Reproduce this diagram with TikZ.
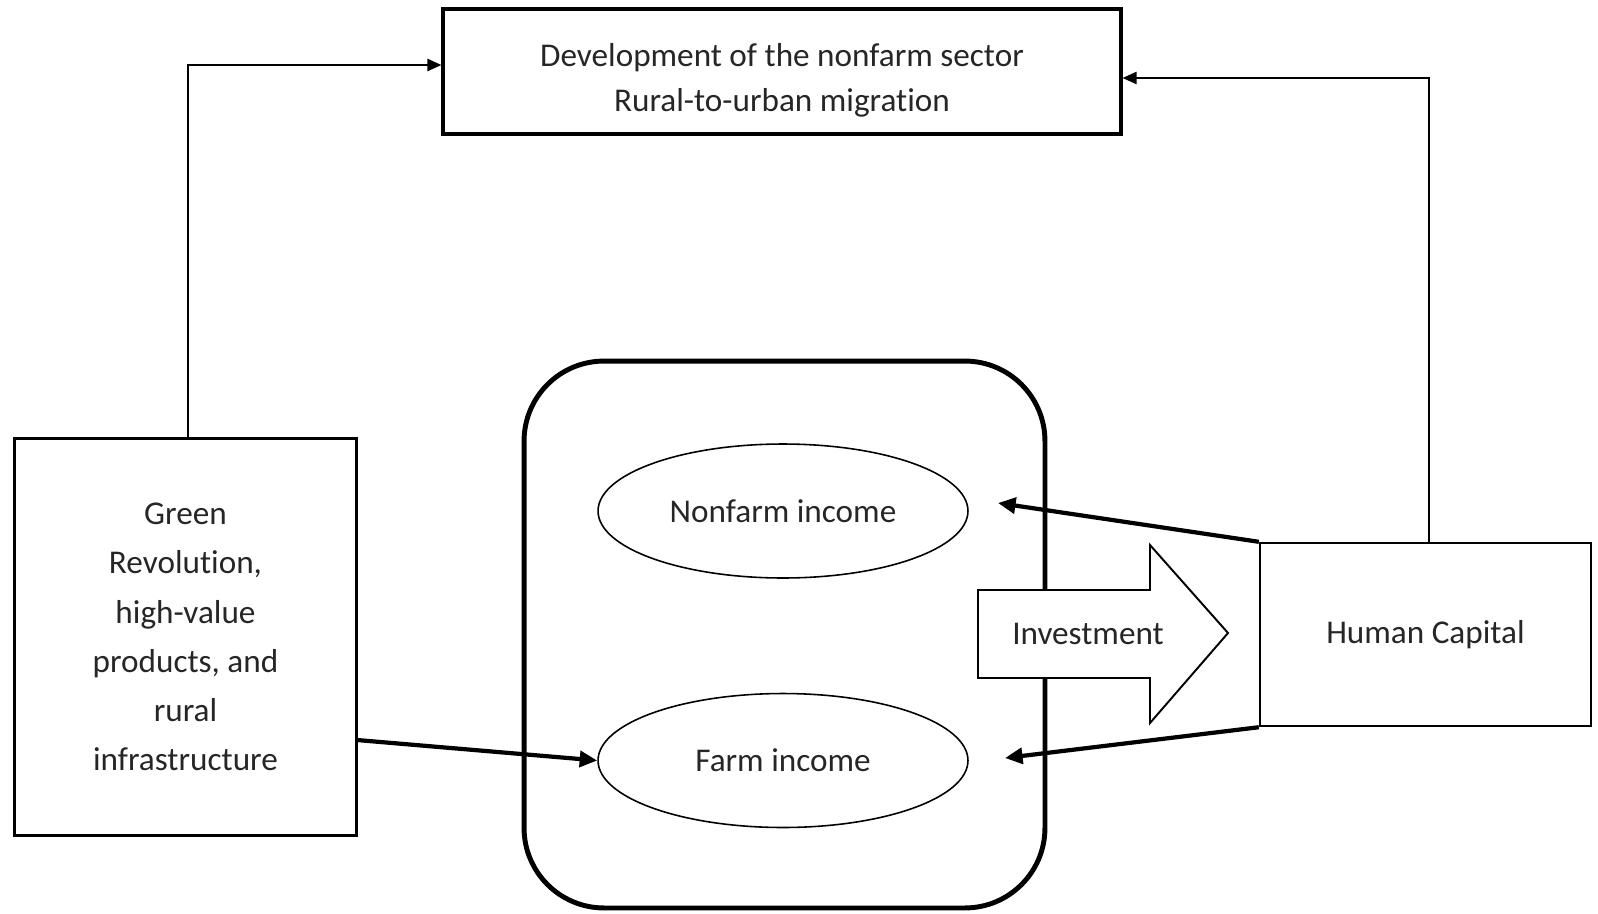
\documentclass[tikz,border=0pt]{standalone}
\usepackage{fontspec}
\setmainfont{Carlito}[Ligatures=NoCommon]
\usetikzlibrary{positioning, arrows.meta, shapes.geometric}

\begin{document}
\begin{tikzpicture}[
    x=0.02cm, y=-0.02cm,
    font=\fontsize{18.9}{25.5}\selectfont,
    every node/.style={text=black!85},
    box/.style={rectangle, draw=black, align=center, inner sep=0pt},
    oval/.style={ellipse, draw=black, line width=0.9pt, minimum width=7.4cm, minimum height=2.68cm, inner sep=0pt},
    link/.style={-{Triangle[length=8pt, width=7pt]}, line width=1pt},
    heavy/.style={-{Triangle[length=10pt, width=9pt]}, line width=2.4pt}
  ]
  \useasboundingbox (0,0) rectangle (1598,913);

  % 方框
  \node[box, line width=1.9pt, minimum width=13.56cm, minimum height=2.5cm] (dev) at (782,71.5)
        {\rule{0pt}{0.8cm}Development of the nonfarm sector\\Rural-to-urban migration};
  \node[box, line width=1.7pt, minimum width=6.86cm, minimum height=7.96cm,
        font=\fontsize{18.9}{28}\selectfont] (green) at (185.5,637)
        {Green\\Revolution,\\high-value\\products, and\\rural\\infrastructure};
  \node[box, line width=1.4pt, minimum width=6.62cm, minimum height=3.66cm] (hc) at (1425.5,634.5) {Human Capital};

  % 收入框与两个椭圆
  \node[draw, rounded corners=1.6cm, line width=2.8pt, minimum width=10.42cm, minimum height=10.94cm] (frame) at (784.5,634.5) {};
  \node[oval] (nonfarm) at (783,511) {Nonfarm income};
  \node[oval] (farm) at (783,760.5) {Farm income};

  % 投资大箭头
  \draw[fill=white, line width=1.1pt] (978,590) -- (1150,590) -- (1150,545) -- (1228,633)
        -- (1150,723) -- (1150,678) -- (978,678) -- cycle;
  \node (inv) at (1088,634) {Investment};

  % 细线箭头（到上方框）
  \draw[link] ([xshift=0.05cm]green.north) |- ([yshift=0.13cm]dev.west);
  \draw[link] ([xshift=0.07cm]hc.north) |- ([yshift=-0.13cm]dev.east);

  % 粗线箭头
  \coordinate (g-out) at (357,740);
  \coordinate (nf-in) at (998,503);
  \coordinate (f-in) at (1005,758);
  \draw[heavy] (g-out) -- (farm.west);
  \draw[heavy] (hc.north west) -- (nf-in);
  \draw[heavy] (hc.south west) -- (f-in);

\end{tikzpicture}
\end{document}
